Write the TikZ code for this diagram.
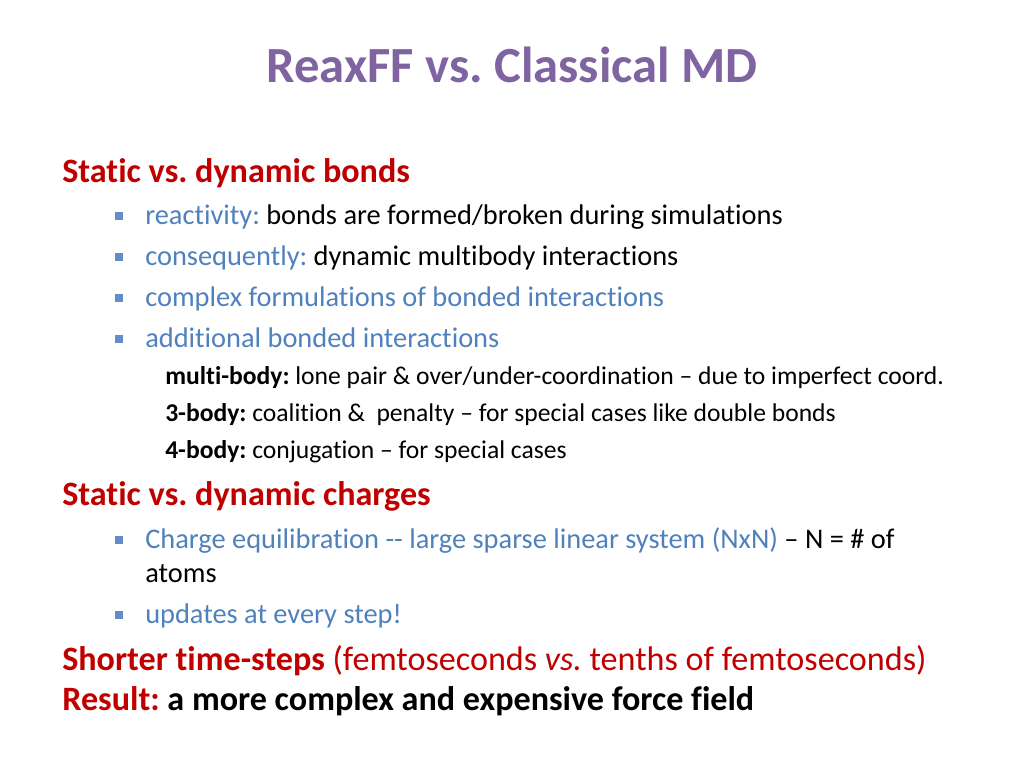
\documentclass[tikz,border=0pt]{standalone}
\usepackage{fontspec}
\setmainfont[Ligatures={NoCommon}]{Carlito}
\definecolor{ttl}{RGB}{128,100,162}
\definecolor{hd}{RGB}{192,0,0}
\definecolor{bl}{RGB}{79,129,189}
\definecolor{sq}{RGB}{100,140,200}
\frenchspacing
\begin{document}
\begin{tikzpicture}[x=0.75pt,y=-0.75pt,
  t/.style={anchor=base west,inner sep=0pt},
  title/.style={anchor=base,inner sep=0pt,font=\fontsize{38}{42}\selectfont\bfseries,text=ttl},
  head/.style={t,font=\fontsize{25.6}{28}\selectfont\bfseries,text=hd},
  lvl/.style={t,font=\fontsize{21.3}{24}\selectfont},
  sub/.style={t,font=\fontsize{19.2}{22}\selectfont},
  big/.style={t,font=\fontsize{25.6}{28}\selectfont},
  bul/.style={fill=sq,minimum size=6pt,inner sep=0pt}]
\useasboundingbox (0,0) rectangle (1024,768);
\node[title] (ti) at (512,82) {ReaxFF vs. Classical MD};
\node[head] (h1) at (62,182) {Static vs. dynamic bonds};
\node[lvl] (b1) at (145,224) {\textcolor{bl}{reactivity:} bonds are formed/broken during simulations};
\node[lvl] (b2) at (145,265) {\textcolor{bl}{consequently:} dynamic multibody interactions};
\node[lvl,text=bl] (b3) at (145,306) {complex formulations of bonded interactions};
\node[lvl,text=bl] (b4) at (145,347) {additional bonded interactions};
\node[sub] (s1) at (165,384) {\textbf{multi-body:} lone pair \& over/under-coordination -- due to imperfect coord.};
\node[sub] (s2) at (165,421) {\textbf{3-body:} coalition \&\ \ penalty -- for special cases like double bonds};
\node[sub] (s3) at (165,458) {\textbf{4-body:} conjugation -- for special cases};
\node[head] (h2) at (62,505) {Static vs. dynamic charges};
\node[lvl] (c1) at (145,548) {\textcolor{bl}{Charge equilibration -{}- large sparse linear system (NxN)} -- N = \# of};
\node[lvl] (c1b) at (145,582) {atoms};
\node[lvl,text=bl] (c2) at (145,623) {updates at every step!};
\node[big] (sh) at (62,670) {\textcolor{hd}{\bfseries Shorter time-steps} \textcolor{hd}{(femtoseconds \textit{vs.} tenths of femtoseconds)}};
\node[big] (re) at (62,710) {\textcolor{hd}{\bfseries Result:} \textbf{a more complex and expensive force field}};
\foreach \y/\n in {216/q1,257/q2,298/q3,339/q4,540/q5,615/q6}
  \node[bul] (\n) at (119,\y) {};
\end{tikzpicture}
\end{document}
